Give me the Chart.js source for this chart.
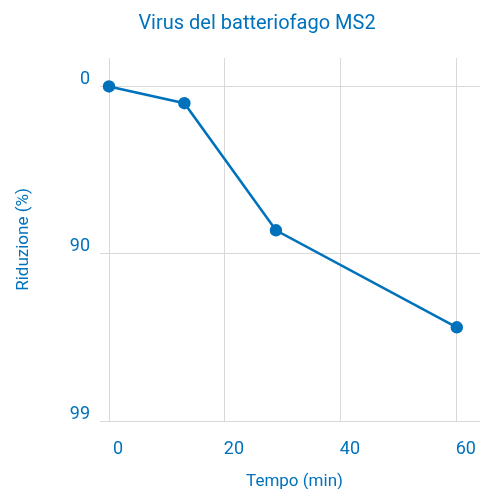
<!DOCTYPE html>
<html>
<head>
<meta charset="utf-8">
<script src="https://cdn.jsdelivr.net/npm/chart.js@4/dist/chart.umd.min.js"></script>
<style>
  html, body { margin: 0; padding: 0; background: #fff; }
  #wrap { width: 480px; height: 489px; }
</style>
</head>
<body>
<div id="wrap"><canvas id="chartMS2"></canvas></div>
<script>
// tempo (min) e riduzione in unità log (0 = 0%, 1 = 90%, 2 = 99%)
const tempi = [0, 13, 28.8, 60];
const riduzioneLog = [0, 0.1, 0.86, 1.44];
const tickValori = [0, 1, 2];
const tickEtichette = ['0', '90', '99'];
const xTicks = [0, 20, 40, 60];

const blu = '#0072bc';
const griglia = '#d9d9d9';
const font = 'Roboto, "Noto Sans", sans-serif';

// titolo disegnato a mano (centrato un po' a destra come nell'originale)
const titoloPlugin = {
  id: 'titolo',
  afterDraw(chart) {
    const ctx = chart.ctx;
    ctx.save();
    ctx.fillStyle = blu;
    ctx.font = '20px ' + font;
    ctx.textAlign = 'center';
    ctx.textBaseline = 'middle';
    ctx.fillText('Virus del batteriofago MS2', 257, 24);
    ctx.restore();
  }
};

new Chart(document.getElementById('chartMS2'), {
  type: 'line',
  data: {
    datasets: [{
      data: tempi.map((t, i) => ({ x: t, y: riduzioneLog[i] })),
      borderColor: blu,
      backgroundColor: blu,
      borderWidth: 2.5,
      pointRadius: 5,
      pointHoverRadius: 5,
      tension: 0,
      clip: false
    }]
  },
  options: {
    responsive: true,
    maintainAspectRatio: false,
    animation: false,
    layout: { autoPadding: false, padding: { top: 58, right: 0, left: 0, bottom: 0 } },
    plugins: {
      legend: { display: false },
      tooltip: { enabled: false },
      title: { display: false }
    },
    scales: {
      x: {
        type: 'linear',
        min: 0,
        max: 64,
        afterBuildTicks: (s) => { s.ticks = xTicks.map(v => ({ value: v })); },
        afterFit: (s) => {
          s.height = 68;
          s.paddingLeft = 0;
          s.paddingRight = 0;
        },
        grid: { color: griglia, lineWidth: 1, drawTicks: false },
        border: { display: false },
        ticks: {
          color: blu,
          font: { family: font, size: 18 },
          padding: 18,
          labelOffset: 9
        },
        title: {
          display: true,
          text: 'Tempo (min)',
          color: blu,
          font: { family: font, size: 17 },
          padding: { top: 0, bottom: -3 }
        }
      },
      y: {
        type: 'linear',
        reverse: true,
        min: -0.17,
        max: 2,
        afterBuildTicks: (s) => { s.ticks = tickValori.map(v => ({ value: v })); },
        afterFit: (s) => {
          s.width = 109;
          s.paddingTop = 0;
          s.paddingBottom = 0;
        },
        grid: { color: griglia, lineWidth: 1, tickLength: 9 },
        border: { display: false },
        ticks: {
          color: blu,
          font: { family: font, size: 18 },
          padding: 10,
          labelOffset: -7,
          callback: (v) => tickEtichette[tickValori.indexOf(v)]
        },
        title: {
          display: true,
          text: 'Riduzione (%)',
          color: blu,
          font: { family: font, size: 17 },
          padding: { top: 14, bottom: 0 }
        }
      }
    }
  },
  plugins: [titoloPlugin]
});
</script>
</body>
</html>
